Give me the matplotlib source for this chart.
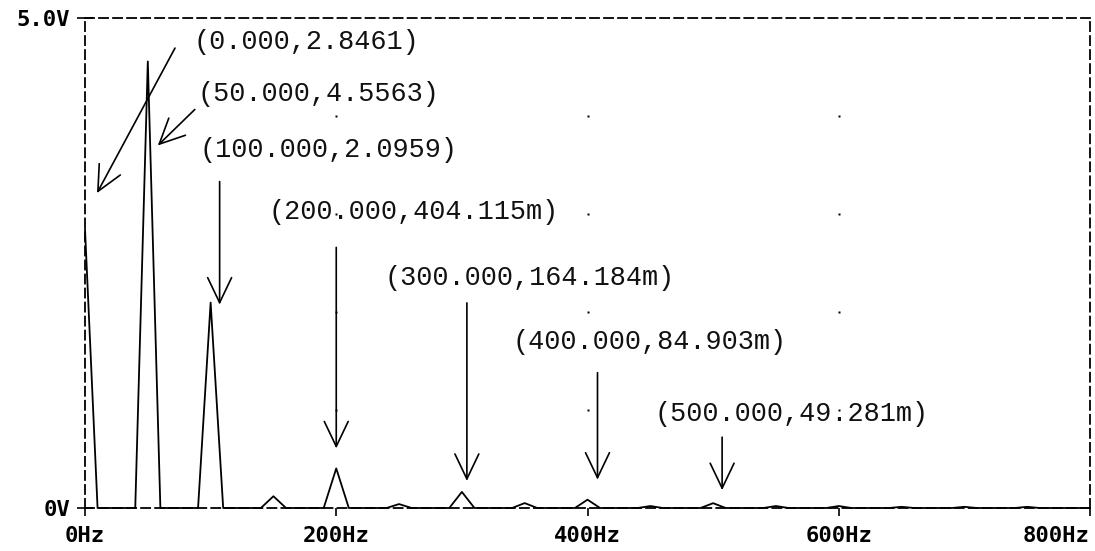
import numpy as np
import matplotlib
matplotlib.use("Agg")
import matplotlib.pyplot as plt
from matplotlib.transforms import offset_copy

# Harmonic content of the FFT (frequency in Hz, magnitude in V)
harm_freq = [0, 50, 100, 150, 200, 250, 300, 350, 400, 450, 500, 550, 600, 650, 700, 750]
harm_mag = [2.8461, 4.5563, 2.0959, 0.12, 0.404115, 0.04, 0.164184, 0.05,
            0.084903, 0.02, 0.049281, 0.02, 0.02, 0.012, 0.012, 0.012]

# Frequency bins of the FFT (10 Hz resolution)
bin_freq = np.arange(0, 801, 10)

# Cursor-labelled points
label_freq = [0, 50, 100, 200, 300, 400, 500]

x_ticks = [0, 200, 400, 600, 800]
x_tick_labels = ["0Hz", "200Hz", "400Hz", "600Hz", "800Hz"]
y_ticks = [0, 5]
y_tick_labels = ["0V", "5.0V"]

# Pixel offsets (from the labelled point) for arrow tip, arrow tail and label text
tip_off = [(12, 36), (10, -84), (9, -2), (0, 20), (5, 11), (10, 20), (9, 13)]
tail_off = [(90, 181), (47, -48), (9, 121), (0, 221), (5, 189), (10, 127), (9, 66)]
text_off = [(108, 187), (50, -33), (-11, 153), (-68, 256), (-77, 214), (-75, 158), (-59, 89)]

plt.rcParams["lines.scale_dashes"] = False

spectrum = np.zeros(len(bin_freq))
for f, m in zip(harm_freq, harm_mag):
    spectrum[int(round(f / 10))] = m


def fmt_value(v):
    if v >= 1:
        return f"{v:.4f}"
    return f"{v * 1000:.3f}m"


fig = plt.figure(figsize=(10.95, 5.51), dpi=100)
W, H = 1095, 551
ax = fig.add_axes([85 / W, 1 - 508 / H, (1090 - 85) / W, (508 - 18) / H])
ax.set_xlim(0, 800)
ax.set_ylim(0, 5)

for sp in ax.spines.values():
    sp.set_linestyle((0, (6.5, 3.6)))
    sp.set_linewidth(1.3)
    sp.set_color("black")

# grid dots
gx, gy = np.meshgrid([200, 400, 600], [1, 2, 3, 4])
ax.plot(gx.ravel(), gy.ravel(), linestyle="none", marker="s", ms=1.6,
        color="black", mec="none", zorder=1)

ax.plot(bin_freq, spectrum, color="black", lw=1.3, clip_on=False, zorder=3)

tick_font = dict(family="DejaVu Sans Mono", weight="bold", size=16)
ax.set_xticks(x_ticks)
ax.set_xticklabels(x_tick_labels, fontdict=tick_font)
ax.set_yticks(y_ticks)
ax.set_yticklabels(y_tick_labels, fontdict=tick_font)
ax.get_xticklabels()[-1].set_ha("right")
ax.tick_params(axis="x", direction="out", length=6, width=1.2, pad=7)
ax.tick_params(axis="y", direction="inout", length=11.5, width=1.2, pad=5)

mag_of = dict(zip(harm_freq, harm_mag))
for i, f in enumerate(label_freq):
    v = mag_of[f]
    tip_tr = offset_copy(ax.transData, fig=fig, x=tip_off[i][0], y=tip_off[i][1], units="dots")
    tail_tr = offset_copy(ax.transData, fig=fig, x=tail_off[i][0], y=tail_off[i][1], units="dots")
    ax.annotate("", xy=(f, v), xycoords=tip_tr, xytext=(f, v), textcoords=tail_tr,
                arrowprops=dict(arrowstyle="->,head_length=18,head_width=8.6",
                                mutation_scale=1, lw=1.2, color="black",
                                shrinkA=0, shrinkB=0),
                annotation_clip=False, zorder=4)
    ax.annotate(f"({f:.3f},{fmt_value(v)})", xy=(f, v), xytext=text_off[i],
                textcoords="offset pixels", ha="left", va="center",
                family="Liberation Mono", size=19.4, color="#111111",
                annotation_clip=False, zorder=5)

fig.savefig("out.png", dpi=100)
